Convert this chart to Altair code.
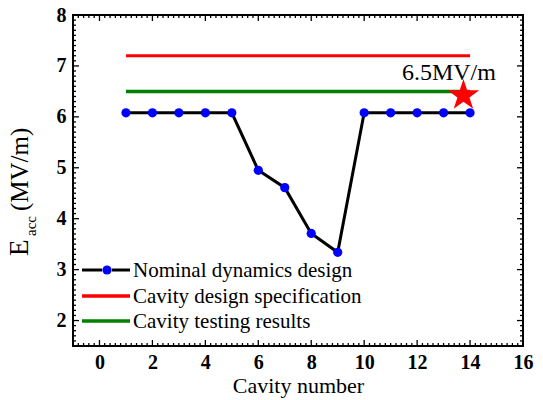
import altair as alt
import pandas as pd

# ---- data ----
cavity = [1, 2, 3, 4, 5, 6, 7, 8, 9, 10, 11, 12, 13, 14]
eacc = [6.08, 6.08, 6.08, 6.08, 6.08, 4.95, 4.61, 3.71, 3.34, 6.08, 6.08, 6.08, 6.08, 6.08]
spec_x = [1, 14]
spec_y = [7.2, 7.2]
test_x = [1, 14]
test_y = [6.5, 6.5]
star_x = [13.75]
star_y = [6.42]
note_text = ["6.5MV/m"]
note_x = [13.2]
note_y = [6.72]
legend_labels = ["Nominal dynamics design", "Cavity design specification", "Cavity testing results"]
legend_colors = ["black", "#ff0000", "#008000"]

x_major = [0, 2, 4, 6, 8, 10, 12, 14, 16]
y_major = [2, 3, 4, 5, 6, 7, 8]
x_minor = [round(-1 + 0.2 * i, 2) for i in range(86) if abs((-1 + 0.2 * i) / 2 - round((-1 + 0.2 * i) / 2)) > 1e-6]
y_minor = [round(1.5 + 0.1 * i, 2) for i in range(66) if abs((1.5 + 0.1 * i) - round(1.5 + 0.1 * i)) > 1e-6]

W, H = 450, 331
FONT = "Liberation Serif"

xs = alt.Scale(domain=[-1, 16], nice=False, zero=False)
ys = alt.Scale(domain=[1.5, 8], nice=False, zero=False)

main = pd.DataFrame({"x": cavity, "y": eacc})
spec = pd.DataFrame({"x": spec_x, "y": spec_y})
test = pd.DataFrame({"x": test_x, "y": test_y})

xaxis = alt.Axis(values=x_major, ticks=False, domain=False, grid=False,
                 labelFont=FONT, labelFontWeight="bold", labelFontSize=20, labelColor="black",
                 labelPadding=6, title="Cavity number", titleFont=FONT, titleFontSize=22,
                 titleFontWeight="normal", titleColor="black", titlePadding=3, labelFlush=False)
yaxis = alt.Axis(values=y_major, ticks=False, domain=False, grid=False,
                 labelFont=FONT, labelFontWeight="bold", labelFontSize=20, labelColor="black",
                 labelPadding=7, title=None, labelFlush=False)

base_axes = alt.Chart(main).mark_line(opacity=0).encode(
    x=alt.X("x:Q", scale=xs, axis=xaxis),
    y=alt.Y("y:Q", scale=ys, axis=yaxis),
)

spec_line = alt.Chart(spec).mark_line(color="#ff0000", strokeWidth=3).encode(
    x=alt.X("x:Q", scale=xs), y=alt.Y("y:Q", scale=ys))
test_line = alt.Chart(test).mark_line(color="#008000", strokeWidth=3.5).encode(
    x=alt.X("x:Q", scale=xs), y=alt.Y("y:Q", scale=ys))
main_line = alt.Chart(main).mark_line(color="black", strokeWidth=3).encode(
    x=alt.X("x:Q", scale=xs), y=alt.Y("y:Q", scale=ys))
main_pts = alt.Chart(main).mark_point(filled=True, color="#0000ff", size=85, opacity=1).encode(
    x=alt.X("x:Q", scale=xs), y=alt.Y("y:Q", scale=ys))

STAR = "M0,-1L0.2245,-0.309L0.951,-0.309L0.363,0.118L0.588,0.809L0,0.382L-0.588,0.809L-0.363,0.118L-0.951,-0.309L-0.2245,-0.309Z"
star = alt.Chart(pd.DataFrame({"x": star_x, "y": star_y})).mark_point(
    shape=STAR, filled=True, color="#ff0000", size=1100, opacity=1, strokeWidth=0).encode(
    x=alt.X("x:Q", scale=xs), y=alt.Y("y:Q", scale=ys))
note = alt.Chart(pd.DataFrame({"x": note_x, "y": note_y, "t": note_text})).mark_text(
    font=FONT, fontSize=24, color="black", align="center", baseline="alphabetic").encode(
    x=alt.X("x:Q", scale=xs), y=alt.Y("y:Q", scale=ys), text="t:N")

# ---- inward ticks on all four sides ----
def xticks(vals, length):
    df = pd.DataFrame({"x": vals})
    bot = alt.Chart(df).mark_rule(color="black", strokeWidth=1.3).encode(
        x=alt.X("x:Q", scale=xs), y=alt.value(H), y2=alt.value(H - length))
    top = alt.Chart(df).mark_rule(color="black", strokeWidth=1.3).encode(
        x=alt.X("x:Q", scale=xs), y=alt.value(0), y2=alt.value(length))
    return [bot, top]

def yticks(vals, length):
    df = pd.DataFrame({"y": vals})
    left = alt.Chart(df).mark_rule(color="black", strokeWidth=1.3).encode(
        y=alt.Y("y:Q", scale=ys), x=alt.value(0), x2=alt.value(length))
    right = alt.Chart(df).mark_rule(color="black", strokeWidth=1.3).encode(
        y=alt.Y("y:Q", scale=ys), x=alt.value(W), x2=alt.value(W - length))
    return [left, right]

tick_layers = xticks(x_major, 6) + xticks(x_minor, 3) + yticks(y_major, 6) + yticks(y_minor, 3)

# ---- manual legend ----
leg_y = [255, 281, 306]
leg_df = pd.DataFrame({"label": legend_labels, "row": [0, 1, 2]})
legend_layers = []
legend_layers.append(alt.Chart(leg_df.iloc[[0]]).mark_rule(color="black", strokeWidth=3).encode(
    x=alt.value(9), x2=alt.value(29), y=alt.value(leg_y[0])))
legend_layers.append(alt.Chart(leg_df.iloc[[0]]).mark_rule(color="black", strokeWidth=3).encode(
    x=alt.value(39), x2=alt.value(57), y=alt.value(leg_y[0])))
legend_layers.append(alt.Chart(leg_df.iloc[[0]]).mark_point(filled=True, color="#0000ff", size=85, opacity=1).encode(
    x=alt.value(34), y=alt.value(leg_y[0])))
for i, c in [(1, legend_colors[1]), (2, legend_colors[2])]:
    legend_layers.append(alt.Chart(leg_df.iloc[[i]]).mark_rule(color=c, strokeWidth=3.5).encode(
        x=alt.value(9), x2=alt.value(57), y=alt.value(leg_y[i])))
for i in range(3):
    legend_layers.append(alt.Chart(leg_df.iloc[[i]]).mark_text(
        font=FONT, fontSize=21, color="black", align="left", baseline="middle").encode(
        x=alt.value(60), y=alt.value(leg_y[i] + 1), text="label:N"))

# ---- y title with subscript ----
ytitle = [
    alt.Chart(pd.DataFrame({"t": ["E"]})).mark_text(font=FONT, fontSize=27, color="black",
        angle=270, align="left", baseline="alphabetic").encode(
        x=alt.value(-45), y=alt.value(241), text="t:N"),
    alt.Chart(pd.DataFrame({"t": ["acc"]})).mark_text(font=FONT, fontSize=15, color="black",
        angle=270, align="left", baseline="alphabetic").encode(
        x=alt.value(-37), y=alt.value(221), text="t:N"),
    alt.Chart(pd.DataFrame({"t": ["(MV/m)"]})).mark_text(font=FONT, fontSize=25, color="black",
        angle=270, align="left", baseline="alphabetic").encode(
        x=alt.value(-45), y=alt.value(196), text="t:N"),
]

chart = alt.layer(
    base_axes, spec_line, test_line, main_line, main_pts, star, note,
    *tick_layers, *legend_layers, *ytitle
).properties(
    width=W, height=H,
    autosize=alt.AutoSizeParams(type="none"),
    padding={"left": 73, "top": 15, "right": 20, "bottom": 54},
    background="white",
).configure_view(stroke="black", strokeWidth=2)

chart.save("out.html", embed_options={"renderer": "svg", "actions": False})
